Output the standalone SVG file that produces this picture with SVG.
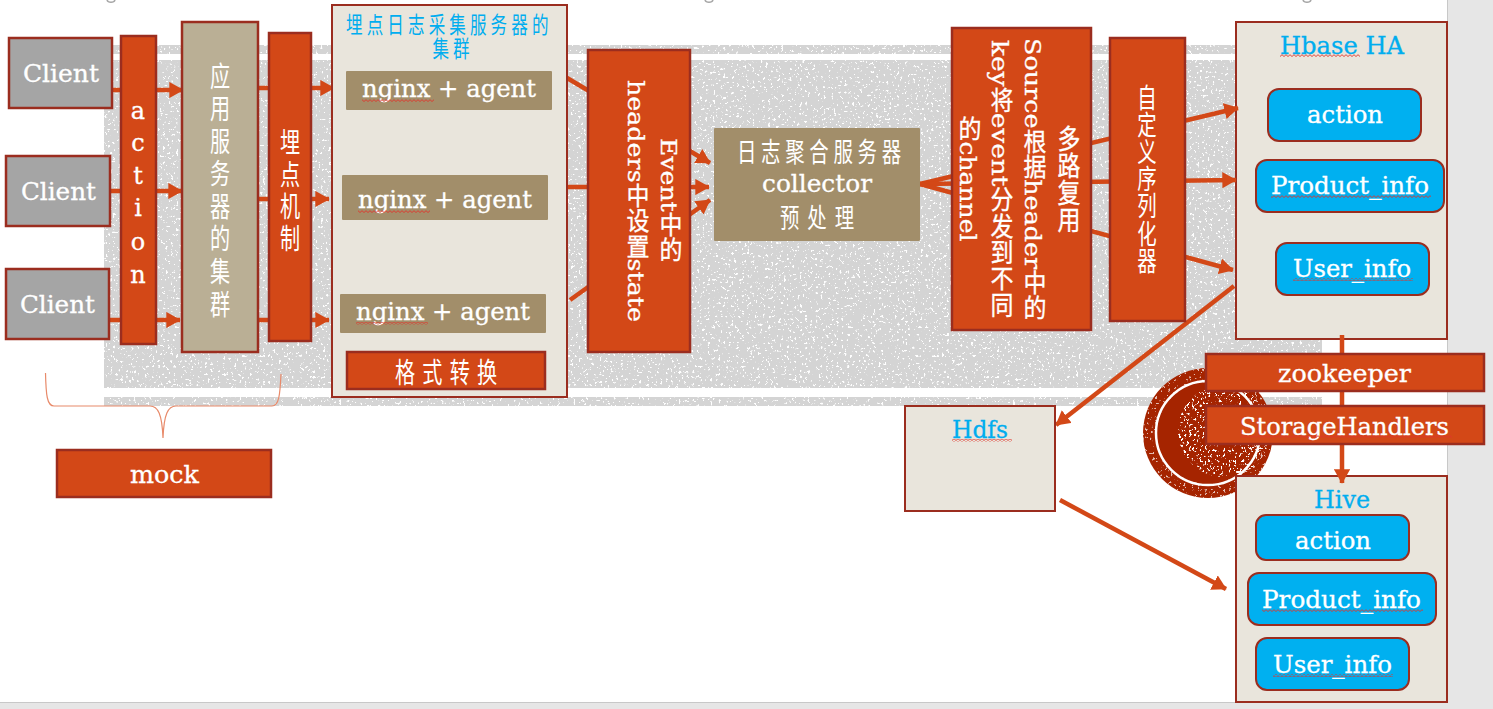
<svg xmlns="http://www.w3.org/2000/svg" width="1493" height="709" viewBox="0 0 1493 709">
<style>
.o{fill:#D34817;stroke:#9B2D1F;stroke-width:2.5}
.g{fill:#A5A5A5;stroke:#9B2D1F;stroke-width:2.5}
.p{fill:#E9E5DC;stroke:#9B2D1F;stroke-width:2}
.t{fill:#A28E6A}
.l{fill:#BAAF95;stroke:#9B2D1F;stroke-width:2.5}
.b{fill:#00B0F0;stroke:#9B2D1F;stroke-width:2}
text{font-family:"DejaVu Serif","Liberation Serif",serif;font-size:24px;fill:#fff;stroke:#fff;stroke-width:.3}
.c{font-family:"Noto Sans CJK SC","Noto Sans",sans-serif;font-size:27px;stroke:none}
.v{writing-mode:vertical-rl;font-family:"DejaVu Serif","Noto Sans CJK SC",serif;font-size:23px;text-anchor:middle}
.vc{writing-mode:vertical-rl;font-family:"Noto Sans CJK SC","Noto Sans",sans-serif;font-size:28px;text-anchor:middle;stroke:none}
.u{fill:#00ADEF;stroke:#00ADEF}
.uc{fill:#00ADEF;stroke:none}
.a{fill:none;stroke:#D34817;stroke-width:4.5;marker-end:url(#h)}
.w{fill:url(#wave)}
</style>
<defs>
<marker id="h" viewBox="0 0 10 10" refX="9.500" refY="5" markerWidth="3.200" markerHeight="3.600" orient="auto" markerUnits="strokeWidth" preserveAspectRatio="none"><path d="M0 0L10 5L0 10z" fill="#D34817"/></marker>
<pattern id="wave" width="4" height="3" patternUnits="userSpaceOnUse"><path d="M0 2.500L2 .7L4 2.500" fill="none" stroke="#E0332A" stroke-width=".9"/></pattern>
<filter id="sp" x="0" y="0" width="100%" height="100%" color-interpolation-filters="sRGB"><feTurbulence type="fractalNoise" baseFrequency=".38" numOctaves="4" seed="4"/><feColorMatrix values="0 0 0 0 1 0 0 0 0 1 0 0 0 0 1 14 0 0 0 -8.900"/><feComposite in2="SourceGraphic" operator="in"/></filter>
<filter id="sp2" x="0" y="0" width="100%" height="100%" color-interpolation-filters="sRGB"><feTurbulence type="fractalNoise" baseFrequency=".38" numOctaves="4" seed="9"/><feColorMatrix values="0 0 0 0 1 0 0 0 0 1 0 0 0 0 1 14 0 0 0 -8.400"/><feComposite in2="SourceGraphic" operator="in"/></filter>
</defs>
<rect width="1493" height="709" fill="#fff"/>
<g id="slide-frame">
<rect x="1447" y="0" width="46" height="709" fill="#E6E6E6"/>
<rect x="0" y="702" width="1493" height="7" fill="#E6E6E6"/>
<rect x="1447" y="0" width="1" height="702" fill="#C8C8C8"/>
<rect x="0" y="702" width="1447" height="1" fill="#C8C8C8"/>
<path d="M107 0C108 3 114 3 115 0M705 0C706 3 712 3 713 0M1303 0C1304 3 1310 3 1311 0" fill="none" stroke="#A6A6A6" stroke-width="1.500"/>
</g>
<g id="texture">
<path d="M104 45H1322V54H104zM104 60H1322V388H104zM104 397H1322V406H104z" fill="#D4D4D4"/>
<path d="M104 45H1322V54H104zM104 60H1322V388H104zM104 397H1322V406H104z" fill="#fff" filter="url(#sp)"/>
<circle cx="1208" cy="433" r="65" fill="#A52400"/>
<circle cx="1208" cy="433" r="65" fill="#fff" filter="url(#sp)" opacity=".7"/>
<circle cx="1208" cy="433" r="51" fill="#A52400"/>
<circle cx="1224" cy="431" r="46" fill="#fff" filter="url(#sp2)"/>
<circle cx="1208" cy="433" r="52" fill="none" stroke="#fff" stroke-width="2.500"/>
</g>
<g id="hbase"><rect class="p" x="1236" y="22" width="211" height="317"/>
<text class="u" x="1280" y="54" textLength="124" lengthAdjust="spacingAndGlyphs">Hbase HA</text><rect class="w" x="1280" y="54" width="80" height="3"/>
<rect class="b" x="1268" y="89" width="153" height="52" rx="11"/><text x="1307" y="123" textLength="76" lengthAdjust="spacingAndGlyphs">action</text>
<rect class="b" x="1256" y="160" width="188" height="52" rx="11"/><text x="1271" y="194" textLength="158" lengthAdjust="spacingAndGlyphs">Product_info</text><rect class="w" x="1271" y="195" width="160" height="3"/>
<rect class="b" x="1276" y="243" width="153" height="52" rx="11"/><text x="1293" y="277" textLength="118" lengthAdjust="spacingAndGlyphs">User_info</text><rect class="w" x="1293" y="278" width="120" height="3"/></g>
<g id="hive"><rect class="p" x="1236" y="476" width="211" height="226"/>
<text class="u" x="1314" y="508" textLength="56" lengthAdjust="spacingAndGlyphs">Hive</text>
<rect class="b" x="1256" y="515" width="153" height="45" rx="10"/><text x="1295" y="549" textLength="76" lengthAdjust="spacingAndGlyphs">action</text>
<rect class="b" x="1248" y="573" width="188" height="52" rx="11"/><text x="1262" y="608" textLength="159" lengthAdjust="spacingAndGlyphs">Product_info</text><rect class="w" x="1262" y="609" width="161" height="3"/>
<rect class="b" x="1256" y="638" width="153" height="52" rx="11"/><text x="1273" y="673" textLength="119" lengthAdjust="spacingAndGlyphs">User_info</text><rect class="w" x="1273" y="674" width="120" height="3"/></g>
<g id="connectors">
<path class="a" d="M112 90H183"/>
<path class="a" d="M110 191H182"/>
<path class="a" d="M109 320H180"/>
<path class="a" d="M258 88H334"/>
<path class="a" d="M258 199H329"/>
<path class="a" d="M258 320H329"/>
<path class="a" d="M557 72L710 163"/>
<path class="a" d="M567 187H709"/>
<path class="a" d="M570 300L710 200"/>
<path class="a" d="M920 184L1238 108"/>
<path class="a" d="M920 184L1236 180"/>
<path class="a" d="M920 184L1233 270"/>
<path class="a" d="M1234 286L1056 425"/>
<path class="a" d="M1060 500L1226 589"/>
<path class="a" d="M1342 335V483"/>
<path d="M45.500 373C46 395 47 406 54 406H150C158 406 162 414 163 438C164 414 168 406 176 406H272C279 406 280 395 281 374" fill="none" stroke="#E88A6A" stroke-width="1.200"/>
</g>
<g id="client-1"><rect class="g" x="9" y="38" width="103" height="70"/><text x="23" y="82" textLength="76" lengthAdjust="spacingAndGlyphs">Client</text></g>
<g id="client-2"><rect class="g" x="6" y="156" width="104" height="70"/><text x="21" y="200" textLength="75" lengthAdjust="spacingAndGlyphs">Client</text></g>
<g id="client-3"><rect class="g" x="6" y="269" width="103" height="70"/><text x="20" y="313" textLength="75" lengthAdjust="spacingAndGlyphs">Client</text></g>
<g id="action"><rect class="o" x="121" y="36" width="35" height="308"/><text text-anchor="middle"><tspan x="138" y="119">a</tspan><tspan x="138" y="151">c</tspan><tspan x="138" y="184">t</tspan><tspan x="138" y="216">i</tspan><tspan x="138" y="250">o</tspan><tspan x="138" y="283">n</tspan></text></g>
<g id="app-cluster"><rect class="l" x="182" y="22" width="76" height="330"/><g transform="translate(220 0) scale(.72 1)"><text class="vc" x="0" y="190" textLength="256" lengthAdjust="spacing">应用服务器的集群</text></g></g>
<g id="tracking"><rect class="o" x="269" y="33" width="42" height="308"/><g transform="translate(290 0) scale(.72 1)"><text class="vc" x="0" y="190" textLength="124" lengthAdjust="spacing">埋点机制</text></g></g>
<g id="collect-cluster"><rect class="p" x="332" y="5" width="235" height="392"/>
<g transform="translate(346 0) scale(.72 1)"><text class="c uc" style="font-size:23px;letter-spacing:5.7px"><tspan x="0" y="33">埋点日志采集服务器的</tspan><tspan x="120" y="57">集群</tspan></text></g>
<rect class="t" x="346" y="71" width="206" height="39" rx="1"/><text x="362" y="97" textLength="174" lengthAdjust="spacingAndGlyphs">nginx + agent</text><rect class="w" x="362" y="99" width="72" height="3"/>
<rect class="t" x="342" y="175" width="206" height="45" rx="1"/><text x="358" y="208" textLength="174" lengthAdjust="spacingAndGlyphs">nginx + agent</text><rect class="w" x="358" y="210" width="72" height="3"/>
<rect class="t" x="340" y="294" width="206" height="39" rx="1"/><text x="356" y="320" textLength="174" lengthAdjust="spacingAndGlyphs">nginx + agent</text><rect class="w" x="356" y="322" width="72" height="3"/>
<rect class="o" x="347" y="352" width="198" height="37"/><g transform="translate(395 383) scale(.72 1)"><text class="c" x="0" y="0" textLength="142" lengthAdjust="spacing" style="font-size:28px">格式转换</text></g></g>
<g id="event"><rect class="o" x="588" y="50" width="102" height="302"/>
<text class="v" x="669" y="200" textLength="124" lengthAdjust="spacingAndGlyphs">Event中的</text>
<text class="v" x="636" y="201" textLength="242" lengthAdjust="spacingAndGlyphs">headers中设置state</text></g>
<g id="collector"><rect class="t" x="714" y="128" width="206" height="113" rx="1"/>
<g transform="translate(737 162) scale(.72 1)"><text class="c" x="0" y="0" textLength="228" lengthAdjust="spacing">日志聚合服务器</text></g>
<text x="762" y="192" textLength="110" lengthAdjust="spacingAndGlyphs">collector</text>
<g transform="translate(780 228) scale(.72 1)"><text class="c" x="0" y="0" textLength="103" lengthAdjust="spacing">预处理</text></g></g>
<g id="source"><rect class="o" x="952" y="28" width="139" height="302"/>
<text class="v" x="1067" y="179" textLength="108" lengthAdjust="spacingAndGlyphs">多路复用</text>
<text class="v" x="1033" y="179" textLength="282" lengthAdjust="spacingAndGlyphs">Source根据header中的</text>
<text class="v" x="1000" y="179" textLength="278" lengthAdjust="spacingAndGlyphs">key将event分发到不同</text>
<text class="v" x="968" y="179" textLength="125" lengthAdjust="spacingAndGlyphs">的channel</text></g>
<g id="serializer"><rect class="o" x="1110" y="38" width="75" height="283"/><g transform="translate(1147 0) scale(.72 1)"><text class="vc" x="0" y="179" textLength="190" lengthAdjust="spacing" style="font-size:27px">自定义序列化器</text></g></g>
<g id="zookeeper"><rect class="o" x="1206" y="354" width="278" height="37"/><text x="1278" y="382" textLength="133" lengthAdjust="spacingAndGlyphs">zookeeper</text></g>
<g id="storage-handlers"><rect class="o" x="1206" y="406" width="278" height="38"/><text x="1240" y="435" textLength="209" lengthAdjust="spacingAndGlyphs">StorageHandlers</text><rect class="w" x="1240" y="435" width="212" height="3"/></g>
<g id="hdfs"><rect class="p" x="905" y="406" width="150" height="105"/><text class="u" x="952" y="438" textLength="56" lengthAdjust="spacingAndGlyphs">Hdfs</text><rect class="w" x="952" y="439" width="60" height="3"/></g>
<g id="mock"><rect class="o" x="57" y="450" width="214" height="47"/><text x="130" y="483" textLength="69" lengthAdjust="spacingAndGlyphs">mock</text></g>
</svg>
